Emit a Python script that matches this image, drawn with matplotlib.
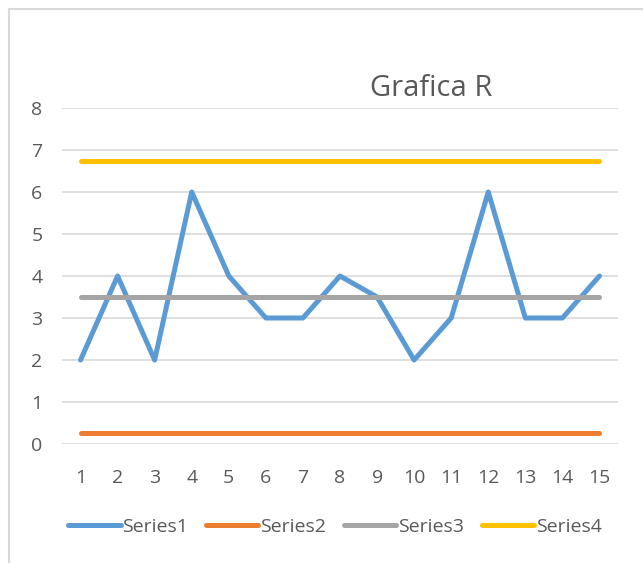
import numpy as np
import matplotlib.pyplot as plt
from matplotlib.lines import Line2D

# data
categories = list(range(1, 16))
series1 = [2, 4, 2, 6, 4, 3, 3, 4, 3.5, 2, 3, 6, 3, 3, 4]
series2 = [0.27] * 15
series3 = [3.5] * 15
series4 = [6.75] * 15
names = ['Series1', 'Series2', 'Series3', 'Series4']
colors = ['#5B9BD5', '#ED7D31', '#A5A5A5', '#FFC000']

plt.rcParams['font.family'] = ['Open Sans', 'DejaVu Sans']

W, H = 643, 563
fig = plt.figure(figsize=(W / 100, H / 100), dpi=100)
ax = fig.add_axes([62 / W, 1 - 444 / H, (618 - 62) / W, (444 - 108) / H])

for vals, name, c in zip([series1, series2, series3, series4], names, colors):
    ax.plot(categories, vals, color=c, lw=3.6, solid_capstyle='round',
            solid_joinstyle='round', label=name)

ax.set_xlim(0.5, 15.5)
ax.set_ylim(0, 8)
ax.set_yticks(range(0, 9))
ax.set_xticks(categories)
ax.grid(axis='y', color='#D9D9D9', lw=1.2)
ax.set_axisbelow(True)
for s in ax.spines.values():
    s.set_visible(False)
ax.tick_params(length=0, labelsize=14, labelcolor='#595959')
ax.tick_params(axis='x', pad=18)
ax.tick_params(axis='y', pad=14)

fig.text(431 / W, 1 - 88 / H, 'Grafica R', ha='center', va='center',
         fontsize=21, color='#595959')

handles = [Line2D([], [], color=c, lw=3.6, solid_capstyle='round') for c in colors]
fig.legend(handles, names, loc='center', bbox_to_anchor=(335 / W, 1 - 527 / H),
           ncol=4, frameon=False, fontsize=14, labelcolor='#595959',
           handlelength=2.7, handletextpad=0.1, columnspacing=0.9)

# chart frame (only left and top visible in the crop)
fig.add_artist(Line2D([9 / W, 9 / W], [0, 1 - 9 / H], color='#D9D9D9', lw=1.5))
fig.add_artist(Line2D([9 / W, 1], [1 - 9 / H, 1 - 9 / H], color='#D9D9D9', lw=1.5))

fig.savefig('out.png', dpi=100)
